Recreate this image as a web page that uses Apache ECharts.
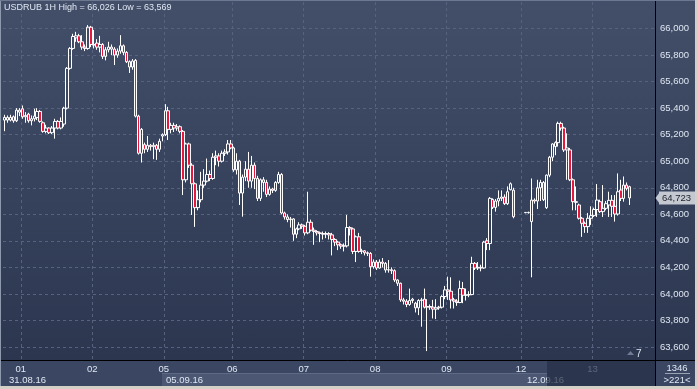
<!DOCTYPE html>
<html><head><meta charset="utf-8">
<script src="https://cdn.jsdelivr.net/npm/echarts@6/dist/echarts.min.js"></script>
<style>
html,body{margin:0;padding:0;}
#c{width:698px;height:389px;background:linear-gradient(to bottom,#434e68 0%,#36415b 50%,#2a344d 100%);}
</style></head>
<body><div id="c"></div>
<script>
// ---- data ----
const dayNames = ['31','01','02','05','06','07','08','09','12','13'];
const dayCounts = [6,24,24,23,24,24,24,25,24,13];
const futureSlots = 8;
const navDates = ['31.08.16','05.09.16','12.09.16'];
const yTicks = {min:63400, max:66200, step:200};
const lastPrice = 64723;
const barsInfo = ['1346','>221<'];
// [open, close, low, high]
const ohlc = [
[65310,65330,65226,65350],[65330,65310,65290,65345],[65310,65330,65300,65350],[65335,65305,65290,65345],[65305,65385,65295,65400],[65385,65370,65340,65400],
[65395,65335,65320,65420],[65335,65345,65290,65370],[65355,65305,65290,65365],[65305,65320,65270,65345],[65320,65340,65300,65395],[65330,65375,65310,65400],
[65375,65300,65290,65385],[65290,65225,65215,65300],[65225,65250,65210,65275],[65250,65215,65205,65255],[65215,65250,65205,65265],[65250,65300,65170,65320],
[65300,65250,65240,65310],[65250,65300,65240,65330],[65280,65400,65260,65410],[65400,65700,65390,65710],[65700,65850,65690,65860],[65850,65940,65840,65960],
[65930,65945,65900,65975],[65945,65900,65890,65960],[65900,65860,65840,65950],[65860,65850,65830,65880],[65850,66010,65840,66026],[66010,65880,65860,66020],
[65880,65875,65850,65990],[65890,65860,65840,65920],[65860,65880,65820,65945],[65880,65790,65770,65890],[65790,65840,65760,65860],[65840,65860,65820,65900],
[65860,65845,65800,65880],[65845,65800,65725,65860],[65800,65830,65780,65850],[65830,65870,65810,65950],[65870,65820,65800,65880],[65820,65750,65740,65830],
[65750,65710,65665,65760],[65710,65755,65690,65770],[65760,65340,65330,65770],[65340,65060,65050,65350],[65060,65240,64990,65250],[65125,65090,65060,65140],
[65090,65120,65070,65190],[65120,65110,65080,65130],[65110,65120,65015,65140],[65120,65090,65010,65130],[65090,65150,65070,65170],[65190,65200,65150,65210],
[65200,65380,65190,65430],[65380,65240,65160,65410],[65240,65270,65210,65290],[65270,65250,65220,65290],[65250,65260,65230,65280],[65260,65225,65210,65270],
[65225,64860,64745,65235],[64860,65130,64840,65140],[65130,64970,64950,65140],[64970,64830,64595,64985],[64830,64650,64505,64840],[64650,64710,64630,64780],
[64710,64820,64690,64920],[64820,64850,64800,64940],[64850,64900,64840,65020],[64900,64870,64850,64930],[64870,65030,64860,65060],[65030,65040,64970,65080],
[65040,65000,64960,65060],[65000,65060,64990,65080],[65060,65070,65040,65090],[65070,65130,65050,65160],[65130,65100,65090,65160],[65100,64935,64920,65110],
[64935,65000,64900,65060],[65000,64760,64670,65010],[64760,64880,64582,64900],[64880,64940,64850,65000],[64940,64850,64800,65070],[64850,64970,64800,65040],
[64970,64870,64790,64990],[64870,64720,64700,64890],[64720,64860,64700,64870],[64860,64840,64770,64880],[64840,64750,64730,64860],[64750,64790,64740,64810],
[64790,64780,64760,64800],[64780,64840,64770,64850],[64840,64900,64830,64920],[64900,64610,64600,64910],[64610,64580,64560,64620],[64580,64560,64540,64600],
[64560,64565,64500,64580],[64565,64450,64400,64570],[64450,64490,64420,64500],[64490,64520,64480,64540],[64520,64510,64490,64530],[64510,64460,64440,64520],
[64460,64540,64450,64770],[64540,64480,64470,64560],[64480,64470,64370,64500],[64470,64460,64440,64480],[64460,64455,64390,64470],[64455,64450,64410,64470],
[64450,64455,64420,64470],[64455,64445,64410,64465],[64445,64410,64290,64460],[64410,64390,64360,64420],[64390,64370,64330,64400],[64370,64360,64340,64380],
[64360,64362,64320,64380],[64362,64500,64350,64595],[64500,64490,64440,64510],[64490,64320,64300,64500],[64320,64430,64240,64440],[64430,64320,64310,64460],
[64320,64325,64300,64340],[64325,64310,64290,64330],[64310,64305,64285,64320],[64305,64205,64130,64315],[64205,64240,64190,64260],[64240,64195,64180,64255],
[64195,64240,64190,64260],[64240,64230,64200,64270],[64230,64180,64160,64240],[64180,64182,64160,64255],[64182,64175,64150,64200],[64175,64105,64090,64185],
[64105,64080,64060,64110],[64080,63955,63940,64085],[63955,63945,63920,63970],[63945,63920,63900,63960],[63920,63950,63910,64040],[63950,63960,63930,63970],
[63930,63895,63860,63940],[63895,63950,63840,63960],[63950,63955,63753,63970],[63960,63900,63890,64040],[63900,63905,63569,63960],[63905,63900,63880,63920],
[63900,63885,63815,63955],[63885,63895,63810,63960],[63895,63900,63880,63910],[63900,63980,63890,63990],[63980,64030,63960,64060],[64030,64020,63955,64130],
[64020,63955,63890,64125],[63955,63945,63890,63970],[63945,63935,63910,63960],[63935,64040,63930,64100],[64040,63990,63930,64090],[63990,63992,63950,64040],
[63992,63995,63975,64020],[63995,64230,63990,64280],[64230,64195,64180,64240],[64195,64200,64180,64240],[64200,64195,64170,64220],[64195,64390,64190,64400],
[64400,64380,64330,64420],[64380,64720,64330,64730],[64712,64652,64640,64720],[64652,64700,64620,64715],[64700,64720,64660,64780],[64720,64730,64700,64780],
[64730,64680,64670,64750],[64680,64770,64670,64810],[64785,64830,64780,64840],[64782,64582,64570,64800],'-','-',
'-',[64612,64614,64608,64616],[64614,64612,64605,64620],[64545,64707,64125,64870],[64707,64700,64680,64720],[64700,64800,64640,64860],
[64800,64840,64700,64860],[64840,64710,64700,64850],[64650,64895,64640,64900],[64895,65030,64880,65040],[65030,65130,65000,65135],[65110,65140,65045,65150],
[65140,65285,65110,65298],[65285,65250,65230,65298],[65250,65085,65070,65260],[65085,65100,64860,65210],[65085,64860,64850,65100],[64860,64695,64630,64870],
[64695,64690,64630,64810],[64670,64570,64560,64680],[64570,64532,64430,64580],[64532,64507,64460,64545],[64507,64570,64460,64610],[64570,64590,64520,64660],
[64590,64636,64580,64650],[64636,64707,64580,64828],[64695,64620,64610,64710],[64620,64645,64580,64820],[64645,64680,64630,64700],[64670,64705,64580,64770],
[64705,64660,64580,64745],[64660,64602,64545,64745],[64602,64770,64590,64908],[64783,64720,64700,64860],[64720,64820,64695,64885],[64820,64795,64780,64840],
[64808,64723,64670,64815]
];

// ---- build categories ----
const categories = [];
const dayStart = new Set();
dayNames.forEach((d, k) => {
  if (k > 0) dayStart.add(categories.length);
  for (let h = 0; h < dayCounts[k]; h++) categories.push(d + ' ' + h);
});
for (let f = 0; f < futureSlots; f++) categories.push('');
const fmt = v => String(Math.round(v)).replace(/\B(?=(\d{3})+(?!\d))/g, ',');

const nLines = (yTicks.max - yTicks.min) / yTicks.step + 1;
const gridColors = [];
for (let k = 0; k < nLines; k++) gridColors.push(k === nLines - 1 ? 'rgba(0,0,0,0)' : '#56627e');

const FONT = '"Liberation Sans", Arial, sans-serif';
const txt = '#dfe7f3';

const chart = echarts.init(document.getElementById('c'), null, {renderer: 'canvas'});
const graphics = [
    // bottom strip
    {type: 'rect', z: 5, shape: {x: 0, y: 361, width: 655, height: 25}, style: {fill: '#3b4762'}},
    {type: 'rect', z: 5, shape: {x: 162, y: 373, width: 385, height: 13}, style: {fill: '#4b5773'}},
    {type: 'line', z: 5, shape: {x1: 162, y1: 373.5, x2: 547, y2: 373.5}, style: {stroke: '#5d6985', lineWidth: 1}},
    {type: 'text', z: 11, x: 9, y: 380, style: {text: navDates[0], fill: txt, font: '9.5px ' + FONT, verticalAlign: 'middle'}},
    {type: 'text', z: 11, x: 166, y: 380, style: {text: navDates[1], fill: txt, font: '9.5px ' + FONT, verticalAlign: 'middle'}},
    {type: 'text', z: 11, x: 527, y: 380, style: {text: navDates[2], fill: txt, font: '9.5px ' + FONT, verticalAlign: 'middle'}},
    {type: 'rect', z: 20, shape: {x: 547, y: 361, width: 108, height: 25}, style: {fill: 'rgba(37,47,70,0.72)'}},
    // right bottom panel
    {type: 'rect', z: 5, shape: {x: 656, y: 361, width: 39, height: 25}, style: {fill: '#3b4762'}},
    {type: 'text', z: 11, x: 677, y: 368, style: {text: barsInfo[0], fill: txt, font: '9.5px ' + FONT, align: 'center', verticalAlign: 'middle'}},
    {type: 'line', z: 11, shape: {x1: 665, y1: 373.5, x2: 690, y2: 373.5}, style: {stroke: '#9aa3b4', lineWidth: 1}},
    {type: 'text', z: 11, x: 677, y: 380, style: {text: barsInfo[1], fill: txt, font: '9.5px ' + FONT, align: 'center', verticalAlign: 'middle'}},
    // indicator 7
    {type: 'polygon', z: 11, shape: {points: [[627, 355], [634, 355], [630.5, 351]]}, style: {fill: '#6f7b93'}},
    {type: 'text', z: 11, x: 636, y: 354, style: {text: '7', fill: txt, font: '10px ' + FONT, verticalAlign: 'middle'}},
    // black separators
    {type: 'line', z: 21, shape: {x1: 0, y1: 360.5, x2: 695, y2: 360.5}, style: {stroke: '#000000', lineWidth: 1}},
    {type: 'line', z: 21, shape: {x1: 655.5, y1: 0, x2: 655.5, y2: 386}, style: {stroke: '#000000', lineWidth: 1}},
    // frame
    {type: 'rect', z: 22, shape: {x: 695, y: 0, width: 3, height: 389}, style: {fill: '#d4d0c8'}},
    {type: 'rect', z: 22, shape: {x: 0, y: 386, width: 698, height: 3}, style: {fill: '#d4d0c8'}},
    {type: 'rect', z: 22, shape: {x: 0, y: 0, width: 1, height: 386}, style: {fill: '#8d99ad'}},
    {type: 'rect', z: 22, shape: {x: 0, y: 0, width: 695, height: 1}, style: {fill: '#6d7890'}}
];
chart.setOption({
  backgroundColor: 'transparent',
  animation: false,
  title: {
    text: 'USDRUB 1H High = 66,026 Low = 63,569',
    left: 4, top: 3, padding: 0,
    textStyle: {color: txt, fontSize: 9, fontWeight: 'normal', fontFamily: FONT}
  },
  grid: {left: 3, right: 43, top: 2, bottom: 15.5},
  xAxis: [{
    type: 'category', data: categories, boundaryGap: true,
    axisLine: {show: false}, axisTick: {show: false}, axisLabel: {show: false},
    splitLine: {show: true, interval: (i) => dayStart.has(i),
      lineStyle: {color: '#56627e', type: [3, 3], width: 1}}
  }, {
    type: 'category', data: categories, boundaryGap: true, position: 'bottom', offset: -13.5, z: 10,
    axisLine: {show: false}, axisTick: {show: false}, splitLine: {show: false},
    axisLabel: {show: true, interval: (i) => dayStart.has(i), formatter: v => v.split(' ')[0],
      margin: 4, color: txt, fontSize: 9.5, fontFamily: FONT, padding: [0, 3, 0, 0]}
  }],
  yAxis: {
    type: 'value', position: 'right', min: yTicks.min, max: yTicks.max, interval: yTicks.step,
    axisLine: {show: false}, axisTick: {show: false},
    axisLabel: {color: txt, fontSize: 9.5, fontFamily: FONT, margin: 5, formatter: fmt,
      showMinLabel: false, showMaxLabel: false},
    splitLine: {show: true, lineStyle: {color: gridColors, type: [3, 3], width: 1}}
  },
  series: [{
    type: 'candlestick', xAxisIndex: 0, data: ohlc, barWidth: 3,
    itemStyle: {color: 'rgba(0,0,0,0)', color0: '#e8173c', borderColor: '#ffffff', borderColor0: '#ffffff', borderWidth: 1},
    markLine: {
      silent: true, symbol: 'none', animation: false,
      lineStyle: {color: 'rgba(0,0,0,0)', width: 1, type: 'solid'},
      label: {show: true, position: 'end', distance: 4, formatter: () => fmt(lastPrice),
        backgroundColor: '#c4c8d0', color: '#1a1f2a', fontSize: 9.5, fontFamily: FONT, padding: [2, 4, 1, 3]},
      data: [{yAxis: lastPrice}]
    }
  }],
  graphic: graphics
});
// small arrow tip of the current-price label, placed through the y scale
const py = chart.convertToPixel({yAxisIndex: 0}, lastPrice);
graphics.push({type: 'polygon', z: 30, shape: {points: [[655.5, py], [659.5, py - 5.5], [659.5, py + 5.5]]}, style: {fill: '#c4c8d0'}});
chart.setOption({graphic: graphics});
</script></body></html>
